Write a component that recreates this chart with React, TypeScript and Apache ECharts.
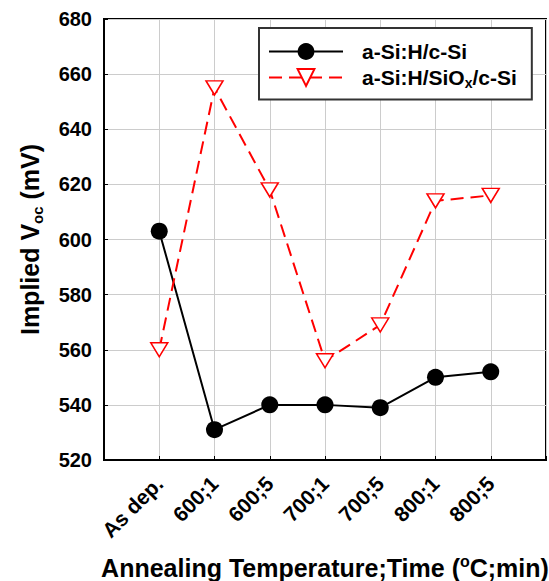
import { useEffect, useRef } from 'react';
import * as echarts from 'echarts';

const categories = ['As dep.', '600;1', '600;5', '700;1', '700;5', '800;1', '800;5'];
const seriesNames = ['a-Si:H/c-Si', 'a-Si:H/SiOx/c-Si'];
const aSiCSi = [603, 531, 540, 540, 539, 550, 552];
const aSiSiOxCSi = [560, 655, 618, 556, 569, 614, 616];
const yMin = 520;
const yMax = 680;
const yStep = 20;

const FONT = 'Arial, "Liberation Sans", sans-serif';

export default function App() {
  const ref = useRef<HTMLDivElement>(null);
  useEffect(() => {
    const chart = echarts.init(ref.current!, null, { renderer: 'svg' });
    const bold = (fontSize: number, extra: any = {}) => ({
      fontSize,
      fontWeight: 'bold',
      fontFamily: FONT,
      color: '#000',
      ...extra,
    });
    chart.setOption({
      animation: false,
      backgroundColor: '#fff',
      textStyle: { fontFamily: FONT },
      grid: {
        left: 104,
        top: 19,
        right: 3,
        bottom: 121,
        show: true,
        borderColor: '#000',
        borderWidth: 2,
        containLabel: false,
        outerBoundsMode: 'none',
      },
      legend: {
        data: seriesNames,
        orient: 'vertical',
        left: 259,
        top: 28,
        padding: [13, 15, 10, 9],
        itemWidth: 74,
        itemHeight: 21,
        itemGap: 5,
        selectedMode: false,
        backgroundColor: '#fff',
        borderColor: '#333',
        borderWidth: 2,
        formatter: (name: string) =>
          name === seriesNames[1] ? '{b|a-Si:H/SiO}{s|x}{b|/c-Si}' : `{b|${name}}`,
        textStyle: {
          padding: [0, 0, 0, 14],
          rich: {
            b: bold(21, { lineHeight: 24 }),
            s: bold(14, { lineHeight: 12, verticalAlign: 'bottom' }),
          },
        },
      },
      xAxis: {
        type: 'value',
        min: 0,
        max: categories.length + 1,
        interval: 1,
        axisLine: { show: true, lineStyle: { color: '#000', width: 2 } },
        axisTick: { show: true, inside: true, length: 4, lineStyle: { color: '#000' } },
        splitLine: { show: true, lineStyle: { color: '#cccccc', width: 1 } },
        axisLabel: {
          rotate: 45,
          margin: 20,
          ...bold(21),
          formatter: (v: number) => categories[v - 1] ?? '',
        },
        name: '{t|Annealing Temperature;Time (}{o|o}{t|C;min)}',
        nameLocation: 'middle',
        nameGap: 93,
        nameMoveOverlap: false,
        nameTextStyle: {
          rich: {
            t: bold(25, { lineHeight: 30 }),
            o: bold(16, { lineHeight: 11, verticalAlign: 'top' }),
          },
        },
      },
      yAxis: {
        type: 'value',
        min: yMin,
        max: yMax,
        interval: yStep,
        axisLine: { show: true, lineStyle: { color: '#000', width: 2 } },
        axisTick: { show: true, inside: true, length: 4, lineStyle: { color: '#000' } },
        splitLine: { show: true, lineStyle: { color: '#cccccc', width: 1 } },
        axisLabel: { ...bold(20), margin: 12 },
        name: '{a|Implied V}{s|oc}{a| (mV)}',
        nameLocation: 'middle',
        nameRotate: 90,
        nameGap: 59,
        nameMoveOverlap: false,
        nameTextStyle: {
          rich: {
            a: bold(25, { lineHeight: 30 }),
            s: bold(15, { lineHeight: 16, verticalAlign: 'bottom' }),
          },
        },
      },
      series: [
        {
          name: seriesNames[0],
          type: 'line',
          data: aSiCSi.map((v, i) => [i + 1, v]),
          symbol: 'circle',
          symbolSize: 17,
          itemStyle: { color: '#000' },
          lineStyle: { color: '#000', width: 2 },
        },
        {
          name: seriesNames[1],
          type: 'line',
          data: aSiSiOxCSi.map((v, i) => [i + 1, v]),
          symbol: 'triangle',
          symbolRotate: 180,
          symbolSize: [17, 14],
          itemStyle: { color: '#fff', borderColor: '#ff0000', borderWidth: 1.5 },
          lineStyle: { color: '#ff0000', width: 2, type: [13, 7] },
        },
      ],
    });
    return () => chart.dispose();
  }, []);
  return (
    <div
      ref={ref}
      style={{ position: 'fixed', left: 0, top: 0, width: 549, height: 581 }}
    />
  );
}
